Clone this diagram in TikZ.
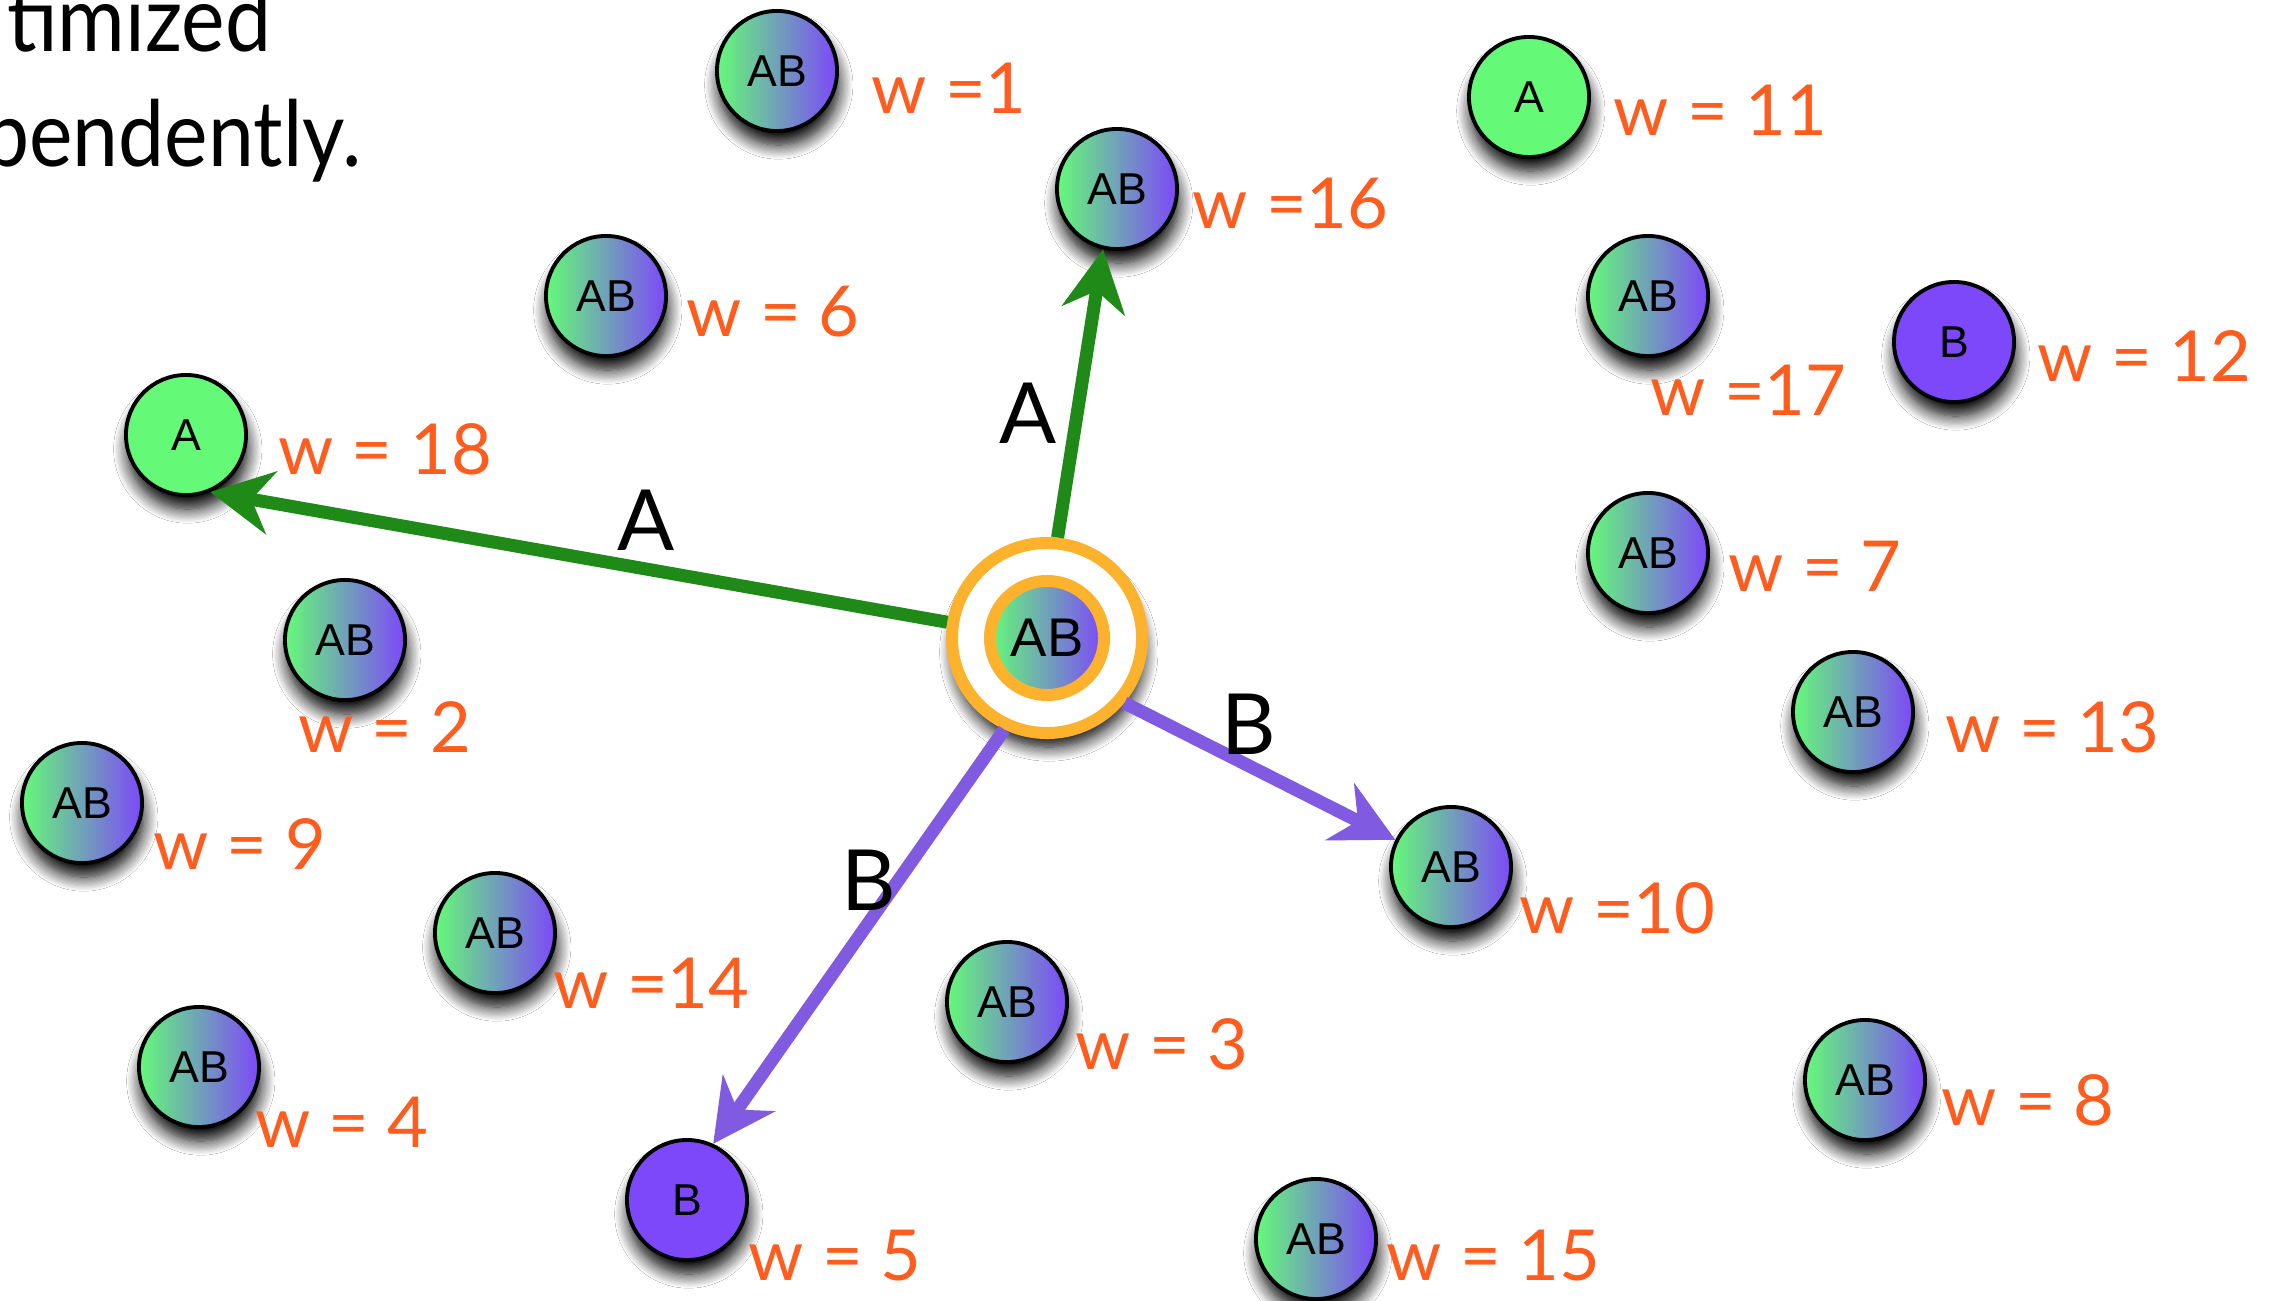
\documentclass[tikz,border=0pt]{standalone}
\usepackage{fontspec}
\setmainfont{Lato}
\newfontfamily\helv{Liberation Sans}
\usetikzlibrary{arrows.meta,shadows.blur}
\definecolor{agreen}{RGB}{100,250,120}
\definecolor{bpurple}{RGB}{125,72,250}
\definecolor{wlab}{RGB}{255,92,30}
\definecolor{egreen}{RGB}{32,138,24}
\definecolor{epurple}{RGB}{128,90,225}
\definecolor{ringc}{RGB}{253,178,46}
\tikzset{
  shad/.style={blur shadow={shadow xshift=0.5pt, shadow yshift=-4pt, shadow blur radius=4pt, shadow opacity=100, shadow blur steps=12}},
  vtx/.style={circle, draw=black, line width=1.1pt, minimum size=1.2cm, inner sep=0pt,
    font=\helv\fontsize{12.7pt}{14pt}\selectfont, shad},
  abv/.style={vtx, left color=agreen, right color=bpurple},
  av/.style={vtx, fill=agreen},
  bv/.style={vtx, fill=bpurple},
  wl/.style={anchor=base west, text=wlab, inner sep=0pt, font=\fontsize{20pt}{24pt}\selectfont},
  el/.style={inner sep=0pt, font=\fontsize{24pt}{28pt}\selectfont},
  ttl/.style={anchor=base east, inner sep=0pt, font=\fontsize{26pt}{30pt}\selectfont},
  earrow/.style={line width=3.7pt, -{Stealth[length=17.6pt,width=18pt,inset=5.7pt]}},
}
\begin{document}
\begin{tikzpicture}[x=0.01cm, y=-0.01cm]
\useasboundingbox (0,0) rectangle (2283,1301);
\fill[white] (0,0) rectangle (2283,1301);

% title fragments
\node[ttl] (t1) at (272,52) {\scalebox{0.9}[1]{timized}};
\node[ttl] (t2) at (362,167) {\scalebox{0.9}[1]{pendently.}};

% centre node
\node[circle, draw=ringc, line width=3.41pt, fill=white, minimum size=1.9cm, inner sep=0pt, shad] (c) at (1047,638) {};
\node[circle, draw=ringc, line width=3.41pt, minimum size=1.14cm, inner sep=0pt,
  left color=agreen, right color=bpurple, font=\helv\fontsize{15.5pt}{18pt}\selectfont] (ci) at (1047,638) {AB};

% vertices
\node[abv] (ab1)  at (777,71)   {AB};
\node[abv] (ab16) at (1117,189) {AB};
\node[av]  (a11)  at (1529,97)  {A};
\node[abv] (ab6)  at (606,296)  {AB};
\node[av]  (a18)  at (186,435)  {A};
\node[abv] (ab17) at (1648,296) {AB};
\node[bv]  (b12)  at (1954,342) {B};
\node[abv] (ab7)  at (1648,553) {AB};
\node[abv] (ab2)  at (345,640)  {AB};
\node[abv] (ab13) at (1853,712) {AB};
\node[abv] (ab9)  at (82,803)   {AB};
\node[abv] (ab10) at (1451,867) {AB};
\node[abv] (ab14) at (495,933)  {AB};
\node[abv] (ab3)  at (1007,1002) {AB};
\node[abv] (ab4)  at (199,1067) {AB};
\node[abv] (ab8)  at (1865,1080) {AB};
\node[bv]  (b5)   at (687,1200) {B};
\node[abv] (ab15) at (1316,1239) {AB};

% weights
\node[wl] (w1)  at (871,114)  {w =1};
\node[wl] (w16) at (1192,229) {w =16};
\node[wl] (w11) at (1613,136) {w = 11};
\node[wl] (w6)  at (686,337)  {w = 6};
\node[wl] (w18) at (278,475)  {w = 18};
\node[wl] (w17) at (1650,416) {w =17};
\node[wl] (w12) at (2037,382) {w = 12};
\node[wl] (w7)  at (1728,592) {w = 7};
\node[wl] (w2)  at (298,752)  {w = 2};
\node[wl] (w13) at (1945,752) {w = 13};
\node[wl] (w9)  at (153,869)  {w = 9};
\node[wl] (w10) at (1519,933) {w =10};
\node[wl] (w14) at (553,1008) {w =14};
\node[wl] (w3)  at (1075,1069) {w = 3};
\node[wl] (w4)  at (255,1147) {w = 4};
\node[wl] (w8)  at (1941,1125) {w = 8};
\node[wl] (w5)  at (748,1280) {w = 5};
\node[wl] (w15) at (1386,1280) {w = 15};

% edges
\draw[earrow, egreen]  (c.171) -- (a18.-67);
\draw[earrow, egreen]  (c.84)  -- (ab16.-103);
\draw[earrow, epurple] (c.-40) -- (ab10.154);
\draw[earrow, epurple] (c.-115) -- (b5.65);

% edge labels
\node[el] (la1) at (646,520)  {A};
\node[el] (la2) at (1028,413) {A};
\node[el] (lb1) at (1249,724) {B};
\node[el] (lb2) at (869,880)  {B};
\end{tikzpicture}
\end{document}
